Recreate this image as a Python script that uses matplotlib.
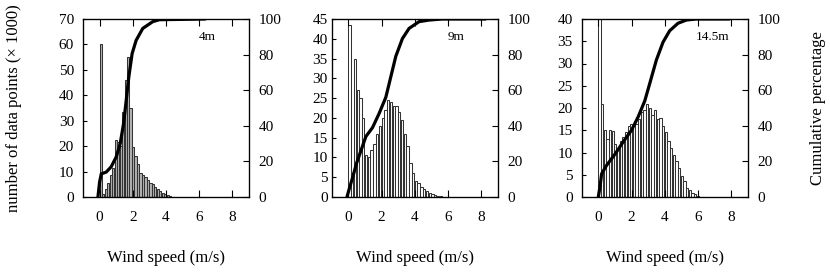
import numpy as np
import matplotlib
matplotlib.use("Agg")
import matplotlib.pyplot as plt

plt.rcParams['font.family'] = ['Liberation Serif', 'DejaVu Serif']

# histogram counts (x 1000) per speed bin
step_4m = 0.15
counts_4m = [60, 1.0, 3.0, 5.5, 8.5, 11.5, 22.5, 21.5, 20, 33.5, 46, 55, 35, 19.5,
             16, 13, 9.5, 8.5, 7.8, 6.8, 5.5, 5, 4, 3, 2.2, 1.5, 1, 0.6, 0.3, 0.15]

step_9m = 1.0 / 6
counts_9m = [43.5, 6, 35, 27, 25, 20, 10.5, 10, 12, 13.5, 16, 18, 20, 22, 24.5, 24,
             23, 23, 21.5, 19.5, 16, 13, 8.5, 6, 4, 3.5, 2.5, 2, 1.5, 1, 0.7, 0.5,
             0.3, 0.15]

step_14m = 0.16
counts_14m = [50, 21, 15, 13, 15, 14.8, 12, 11, 12.5, 13.5, 14.5, 16, 16.5, 16, 16.5,
              17.5, 19, 19.5, 21, 20, 18.5, 19.5, 17.5, 17.8, 16, 14.5, 12.5, 11, 9.5,
              8, 6.5, 4.8, 3.5, 2, 1.5, 1, 0.6, 0.3]

# cumulative percentage curves
cum_x_4m = [-0.1, 0.0, 0.1, 0.4, 0.7, 1.0, 1.24, 1.44, 1.6, 1.76, 1.96, 2.2, 2.6, 3.2, 3.6, 6.36]
cum_y_4m = [0, 8.4, 13, 14, 17, 22.5, 30, 41, 54, 67.5, 80.6, 88, 94.7, 98.5, 99.6, 100]

cum_x_9m = [-0.08, 0.06, 0.26, 0.5, 0.76, 1.06, 1.46, 1.86, 2.26, 2.56, 2.86, 3.26, 3.66,
            4.26, 4.86, 5.66, 8.26]
cum_y_9m = [0, 4.7, 11, 19, 26, 34, 39, 47, 56, 67.5, 79, 89, 94.7, 98.5, 99.4, 100, 100]

cum_x_14m = [0.0, 0.1, 0.2, 0.5, 1.0, 1.5, 2.0, 2.4, 2.8, 3.1, 3.5, 3.9, 4.3, 4.8, 5.3,
             5.9, 7.9]
cum_y_14m = [0, 5.6, 13, 17.8, 24, 31, 37.5, 45, 54, 63.8, 77, 87, 93.4, 97.6, 99.4, 100, 100]

heights = ["4m", "9m", "14.5m"]
steps = [step_4m, step_9m, step_14m]
counts = [counts_4m, counts_9m, counts_14m]
cum_x = [cum_x_4m, cum_x_9m, cum_x_14m]
cum_y = [cum_y_4m, cum_y_9m, cum_y_14m]
ymax = [70, 45, 40]
ystep = [10, 5, 5]

W, H = 830, 277
fig = plt.figure(figsize=(W / 100, H / 100), dpi=100)

lefts = [83, 331.7, 581.7]
lpad = [6.5, 3.0, 6.5]
face = ['0.7', 'white', 'white']
txt_x = [0.75, 0.75, 0.79]

for k in range(3):
    ax = fig.add_axes([lefts[k] / W, 1 - 197 / H, 166 / W, 178 / H])
    c = np.array(counts[k])
    x0 = np.arange(len(c)) * steps[k]
    ax.bar(x0, c, width=steps[k] * 0.85, align='edge', facecolor=face[k],
           edgecolor='0.2', linewidth=0.75)
    ax.set_xlim(-1, 9)
    ax.set_ylim(0, ymax[k])
    ax.set_xticks([0, 2, 4, 6, 8])
    ax.set_yticks(np.arange(0, ymax[k] + 1, ystep[k]))
    ax.tick_params(axis='x', direction='in', top=True, length=5, width=0.8,
                   labelsize=11, pad=10)
    ax.tick_params(axis='y', direction='in', length=3, width=0.8, labelsize=11,
                   pad=lpad[k])
    for s in ax.spines.values():
        s.set_linewidth(0.9)

    ax2 = ax.twinx()
    ax2.plot(cum_x[k], cum_y[k], color='black', linewidth=2.3,
             solid_capstyle='round', solid_joinstyle='round')
    ax2.set_ylim(0, 100)
    ax2.set_yticks([0, 20, 40, 60, 80, 100])
    ax2.tick_params(axis='y', direction='in', length=4, width=0.8, labelsize=11, pad=7)
    ax2.text(txt_x[k], 0.9, heights[k], transform=ax.transAxes, fontsize=9.5,
             ha='center', va='center')

    fig.text((lefts[k] + 83) / W, 1 - 258 / H, "Wind speed (m/s)", fontsize=12,
             ha='center', va='center')

fig.text(14 / W, 1 - 108 / H, "number of data points (\u00d7 1000)", fontsize=12,
         rotation=90, ha='center', va='center')
fig.text(818 / W, 1 - 108 / H, "Cumulative percentage", fontsize=12,
         rotation=90, ha='center', va='center')

fig.savefig("out.png", dpi=100)
